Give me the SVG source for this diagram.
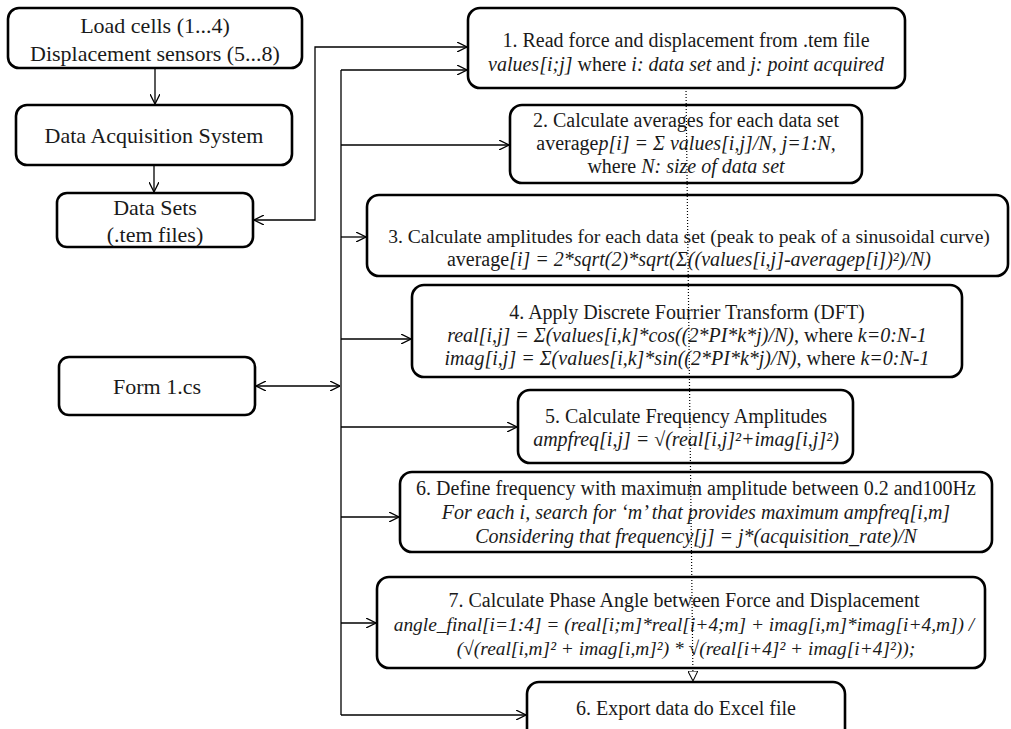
<svg xmlns="http://www.w3.org/2000/svg" width="1011" height="729" viewBox="0 0 1011 729">
<style>
.box{fill:#fff;stroke:#000;stroke-width:2.6}
.t{font-family:"Liberation Serif","Times New Roman",serif;font-size:20px;fill:#1a1a1a;text-anchor:middle}
.tl{font-family:"Liberation Serif","Times New Roman",serif;font-size:22px;fill:#1a1a1a;text-anchor:middle}
.i{font-style:italic}
.c{fill:none;stroke:#000;stroke-width:1.3}
.d{fill:none;stroke:#000;stroke-width:1.2;stroke-dasharray:1 2}
</style>
<defs>
<marker id="arr" viewBox="0 0 10 10" refX="10" refY="5" markerWidth="10" markerHeight="10" markerUnits="userSpaceOnUse" orient="auto-start-reverse"><path d="M0,0 L10,5 L0,10" fill="none" stroke="#000" stroke-width="1.3"/></marker>
<marker id="tri" viewBox="0 0 10 10" refX="10" refY="5" markerWidth="10" markerHeight="10" markerUnits="userSpaceOnUse" orient="auto"><path d="M0,0 L10,5 L0,10 Z" fill="#fff" stroke="#000" stroke-width="1"/></marker>
</defs>
<rect width="1011" height="729" fill="#fff"/>
<g id="n-load">
<rect class="box" x="8" y="8" width="294" height="60" rx="11"/>
<text class="tl" x="155" y="33">Load cells (1...4)</text>
<text class="tl" x="155" y="61">Displacement sensors (5...8)</text>
</g>
<g id="n-daq">
<rect class="box" x="16" y="105" width="276" height="60" rx="11"/>
<text class="tl" x="154" y="143">Data Acquisition System</text>
</g>
<g id="n-datasets">
<rect class="box" x="57" y="193" width="196" height="54" rx="10"/>
<text class="tl" x="155" y="215">Data Sets</text>
<text class="tl" x="155" y="242">(.tem files)</text>
</g>
<g id="n-form">
<rect class="box" x="59" y="357" width="196" height="58" rx="10"/>
<text class="tl" x="157" y="394">Form 1.cs</text>
</g>
<g id="n-1">
<rect class="box" x="468" y="8" width="437" height="80" rx="12"/>
<text class="t" x="686" y="47">1. Read force and displacement from .tem file</text>
<text class="t" x="686" y="71"><tspan class="i">values[i;j]</tspan> where <tspan class="i">i: data set</tspan> and <tspan class="i">j: point acquired</tspan></text>
</g>
<g id="n-2">
<rect class="box" x="510" y="105" width="352" height="78" rx="12"/>
<text class="t" x="686" y="127">2. Calculate averages for each data set</text>
<text class="t" x="686" y="150">average<tspan class="i">p[i]  = Σ values[i,j]/N, j=1:N,</tspan></text>
<text class="t" x="686" y="173">where <tspan class="i">N: size of data set</tspan></text>
</g>
<g id="n-3">
<rect class="box" x="367" y="195" width="641" height="81" rx="12"/>
<text class="t" x="689" y="243" style="font-size:19.6px">3. Calculate amplitudes for each data set (peak to peak of a sinusoidal curve)</text>
<text class="t" x="689" y="266">average<tspan class="i">[i]  = 2*sqrt(2)*sqrt(Σ((values[i,j]-averagep[i])²)/N)</tspan></text>
</g>
<g id="n-4">
<rect class="box" x="412" y="285" width="550" height="92" rx="12"/>
<text class="t" x="687" y="319">4. Apply Discrete Fourrier Transform (DFT)</text>
<text class="t" x="687" y="342"><tspan class="i">real[i,j] = Σ(values[i,k]*cos((2*PI*k*j)/N)</tspan>, where <tspan class="i">k=0:N-1</tspan></text>
<text class="t" x="687" y="365"><tspan class="i">imag[i,j] = Σ(values[i,k]*sin((2*PI*k*j)/N)</tspan>, where <tspan class="i">k=0:N-1</tspan></text>
</g>
<g id="n-5">
<rect class="box" x="518" y="390" width="335" height="73" rx="12"/>
<text class="t" x="686" y="423">5. Calculate Frequency Amplitudes</text>
<text class="t" x="686" y="446"><tspan class="i">ampfreq[i,j]  = √(real[i,j]²+imag[i,j]²)</tspan></text>
</g>
<g id="n-6">
<rect class="box" x="400" y="472" width="592" height="80" rx="12"/>
<text class="t" x="696" y="495">6. Define frequency with maximum amplitude between 0.2 and100Hz</text>
<text class="t" x="696" y="519"><tspan class="i">For each i, search for ‘m’ that provides maximum ampfreq[i,m]</tspan></text>
<text class="t" x="696" y="543"><tspan class="i">Considering that frequency[j] = j*(acquisition_rate)/N</tspan></text>
</g>
<g id="n-7">
<rect class="box" x="377" y="577" width="608" height="91" rx="12"/>
<text class="t" x="684" y="607">7. Calculate Phase Angle between Force and Displacement</text>
<text class="t" x="684" y="631" style="font-size:19.4px"><tspan class="i">angle_final[i=1:4] = (real[i;m]*real[i+4;m] + imag[i,m]*imag[i+4,m]) /</tspan></text>
<text class="t" x="686" y="655" style="font-size:19.4px"><tspan class="i">(√(real[i,m]² + imag[i,m]²) * √(real[i+4]² + imag[i+4]²));</tspan></text>
</g>
<g id="n-8">
<rect class="box" x="527" y="682" width="318" height="60" rx="12"/>
<text class="t" x="686" y="715">6. Export data do Excel file</text>
</g>
<g id="connectors">
<line class="c" x1="155" y1="68" x2="155" y2="104" marker-end="url(#arr)"/>
<line class="c" x1="154" y1="165" x2="154" y2="192" marker-end="url(#arr)"/>
<polyline class="c" points="254,220 315,220 315,47 467,47" marker-start="url(#arr)" marker-end="url(#arr)"/>
<line class="c" x1="341" y1="70" x2="341" y2="715"/>
<line class="c" x1="341" y1="70" x2="467" y2="70" marker-end="url(#arr)"/>
<line class="c" x1="341" y1="145" x2="509" y2="145" marker-end="url(#arr)"/>
<line class="c" x1="341" y1="237" x2="366" y2="237" marker-end="url(#arr)"/>
<line class="c" x1="341" y1="339" x2="411" y2="339" marker-end="url(#arr)"/>
<line class="c" x1="341" y1="427" x2="517" y2="427" marker-end="url(#arr)"/>
<line class="c" x1="341" y1="517" x2="399" y2="517" marker-end="url(#arr)"/>
<line class="c" x1="341" y1="623" x2="376" y2="623" marker-end="url(#arr)"/>
<line class="c" x1="341" y1="715" x2="526" y2="715" marker-end="url(#arr)"/>
<line class="c" x1="256" y1="386" x2="340" y2="386" marker-start="url(#arr)" marker-end="url(#arr)"/>
<line class="d" x1="686" y1="88" x2="693" y2="681" marker-end="url(#tri)"/>
</g>
</svg>
